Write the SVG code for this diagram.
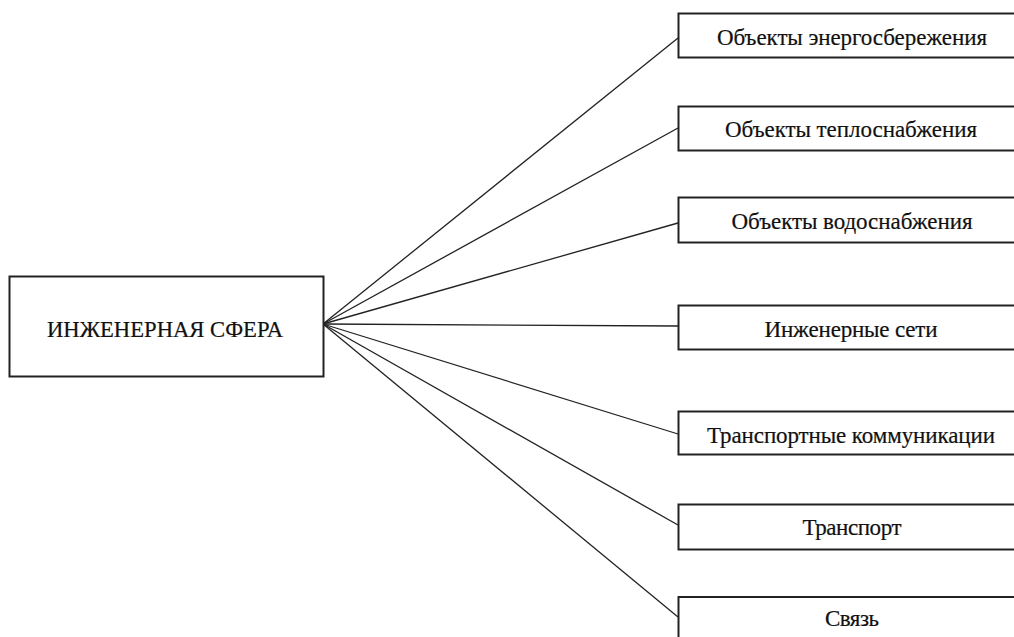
<svg xmlns="http://www.w3.org/2000/svg" width="1014" height="637" viewBox="0 0 1014 637">
<style>
.box{fill:#fff;stroke:#222;stroke-width:2}
.t{font-family:"Liberation Serif","Times New Roman",serif;font-size:23px;fill:#111;text-anchor:middle;stroke:#111;stroke-width:0.2}
.c{stroke:#222;stroke-width:1.3;fill:none}
</style>
<rect width="1014" height="637" fill="#fff"/>
<g id="connectors">
<line class="c" x1="323" y1="324" x2="678" y2="38"/>
<line class="c" x1="323" y1="324" x2="678" y2="128"/>
<line class="c" x1="323" y1="324" x2="678" y2="223"/>
<line class="c" x1="323" y1="324" x2="678" y2="326"/>
<line class="c" x1="323" y1="324" x2="678" y2="434"/>
<line class="c" x1="323" y1="324" x2="678" y2="525"/>
<line class="c" x1="323" y1="324" x2="678" y2="617"/>
</g>
<g id="root">
<rect class="box" x="9.5" y="276.5" width="314" height="100"/>
<text class="t" x="165" y="337" textLength="236" lengthAdjust="spacingAndGlyphs" style="font-size:24px">ИНЖЕНЕРНАЯ СФЕРА</text>
</g>
<g id="n1">
<rect class="box" x="678.5" y="13.5" width="350" height="44"/>
<text class="t" x="852" y="45" textLength="270">Объекты энергосбережения</text>
</g>
<g id="n2">
<rect class="box" x="678.5" y="106.5" width="350" height="44"/>
<text class="t" x="851" y="137" textLength="252">Объекты теплоснабжения</text>
</g>
<g id="n3">
<rect class="box" x="678.5" y="197.5" width="350" height="45"/>
<text class="t" x="852" y="229" textLength="241">Объекты водоснабжения</text>
</g>
<g id="n4">
<rect class="box" x="678.5" y="305.5" width="350" height="44"/>
<text class="t" x="851" y="337" textLength="173">Инженерные сети</text>
</g>
<g id="n5">
<rect class="box" x="678.5" y="411.5" width="350" height="43"/>
<text class="t" x="851" y="443" textLength="288">Транспортные коммуникации</text>
</g>
<g id="n6">
<rect class="box" x="678.5" y="504.5" width="350" height="45"/>
<text class="t" x="852" y="535" textLength="99">Транспорт</text>
</g>
<g id="n7">
<rect class="box" x="678.5" y="597" width="350" height="60"/>
<text class="t" x="852" y="626" textLength="54">Связь</text>
</g>
</svg>
